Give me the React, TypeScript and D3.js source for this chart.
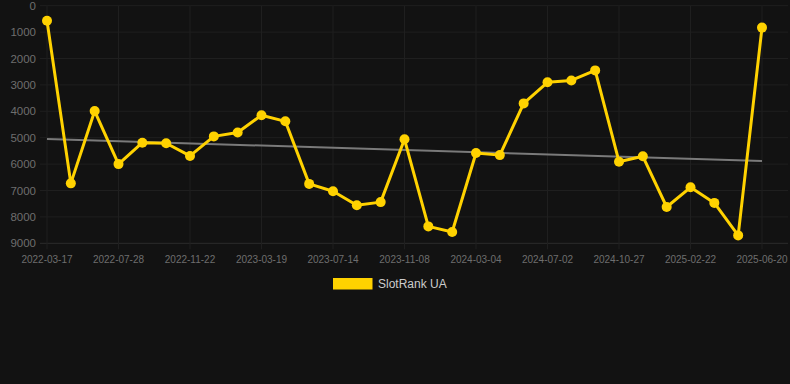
import React from "react";
import * as d3 from "d3";

const categories = [
  "2022-03-17", "2022-04-30", "2022-06-13", "2022-07-28", "2022-09-06", "2022-10-14",
  "2022-11-22", "2023-01-01", "2023-02-09", "2023-03-19", "2023-04-27", "2023-06-05",
  "2023-07-14", "2023-08-22", "2023-09-30", "2023-11-08", "2023-12-17", "2024-01-25",
  "2024-03-04", "2024-04-12", "2024-05-24", "2024-07-02", "2024-08-10", "2024-09-18",
  "2024-10-27", "2024-12-05", "2025-01-13", "2025-02-22", "2025-04-02", "2025-05-11",
  "2025-06-20",
];

const rankValues = [
  570, 6730, 3990, 6000, 5190, 5210, 5690, 4950, 4800, 4150, 4380, 6750,
  7030, 7560, 7440, 5060, 8360, 8570, 5580, 5660, 3700, 2900, 2830, 2450,
  5910, 5705, 7625, 6880, 7470, 8700, 830,
];

const trendValues = [5050, 5880];

const yTicks = [0, 1000, 2000, 3000, 4000, 5000, 6000, 7000, 8000, 9000];

const seriesName = "SlotRank UA";

export default function App() {
  const W = 790;
  const H = 384;
  const x = d3.scalePoint<string>().domain(categories).range([47, 762]);
  const y = d3.scaleLinear().domain([0, 9000]).range([5.7, 243.3]);
  const tickCats = categories.filter((_, i) => i % 3 === 0);

  const line = d3
    .line<number>()
    .x((_, i) => x(categories[i]) as number)
    .y((d) => y(d));

  const gridLeft = 40;
  const gridRight = 788;
  const font = "Arial, 'Liberation Sans', Helvetica, sans-serif";

  return (
    <div style={{ position: "fixed", left: 0, top: 0, width: W, height: H, background: "#121212" }}>
      <svg width={W} height={H} style={{ display: "block" }}>
        <rect x={0} y={0} width={W} height={H} fill="#121212" />
        {yTicks.map((t) => (
          <line
            key={"h" + t}
            x1={gridLeft}
            x2={gridRight}
            y1={y(t)}
            y2={y(t)}
            stroke={t === 9000 ? "#2c2c2c" : "#1f1f1f"}
            strokeWidth={1}
          />
        ))}
        {tickCats.map((c) => (
          <line
            key={"v" + c}
            x1={x(c)}
            x2={x(c)}
            y1={y(0)}
            y2={y(9000) + 6}
            stroke="#1f1f1f"
            strokeWidth={1}
          />
        ))}
        {yTicks.map((t) => (
          <text
            key={"yl" + t}
            x={36}
            y={y(t)}
            dy="0.35em"
            textAnchor="end"
            fontFamily={font}
            fontSize={11.5}
            fill="#6e6e6e"
          >
            {t}
          </text>
        ))}
        {tickCats.map((c) => (
          <text
            key={"xl" + c}
            x={x(c)}
            y={259.5}
            dy="0.35em"
            textAnchor="middle"
            fontFamily={font}
            fontSize={10}
            fill="#6e6e6e"
          >
            {c}
          </text>
        ))}
        <line
          x1={x(categories[0])}
          x2={x(categories[categories.length - 1])}
          y1={y(trendValues[0])}
          y2={y(trendValues[1])}
          stroke="#7a7a7a"
          strokeWidth={2}
        />
        <path d={line(rankValues) || ""} fill="none" stroke="#FFD200" strokeWidth={3} strokeLinejoin="round" />
        {rankValues.map((v, i) => (
          <circle key={"p" + i} cx={x(categories[i])} cy={y(v)} r={5} fill="#FFD200" />
        ))}
        <rect x={333} y={278} width={39.5} height={11.5} fill="#FFD200" />
        <text x={378} y={284} dy="0.35em" fontFamily={font} fontSize={12} fill="#cccccc">
          {seriesName}
        </text>
      </svg>
    </div>
  );
}
